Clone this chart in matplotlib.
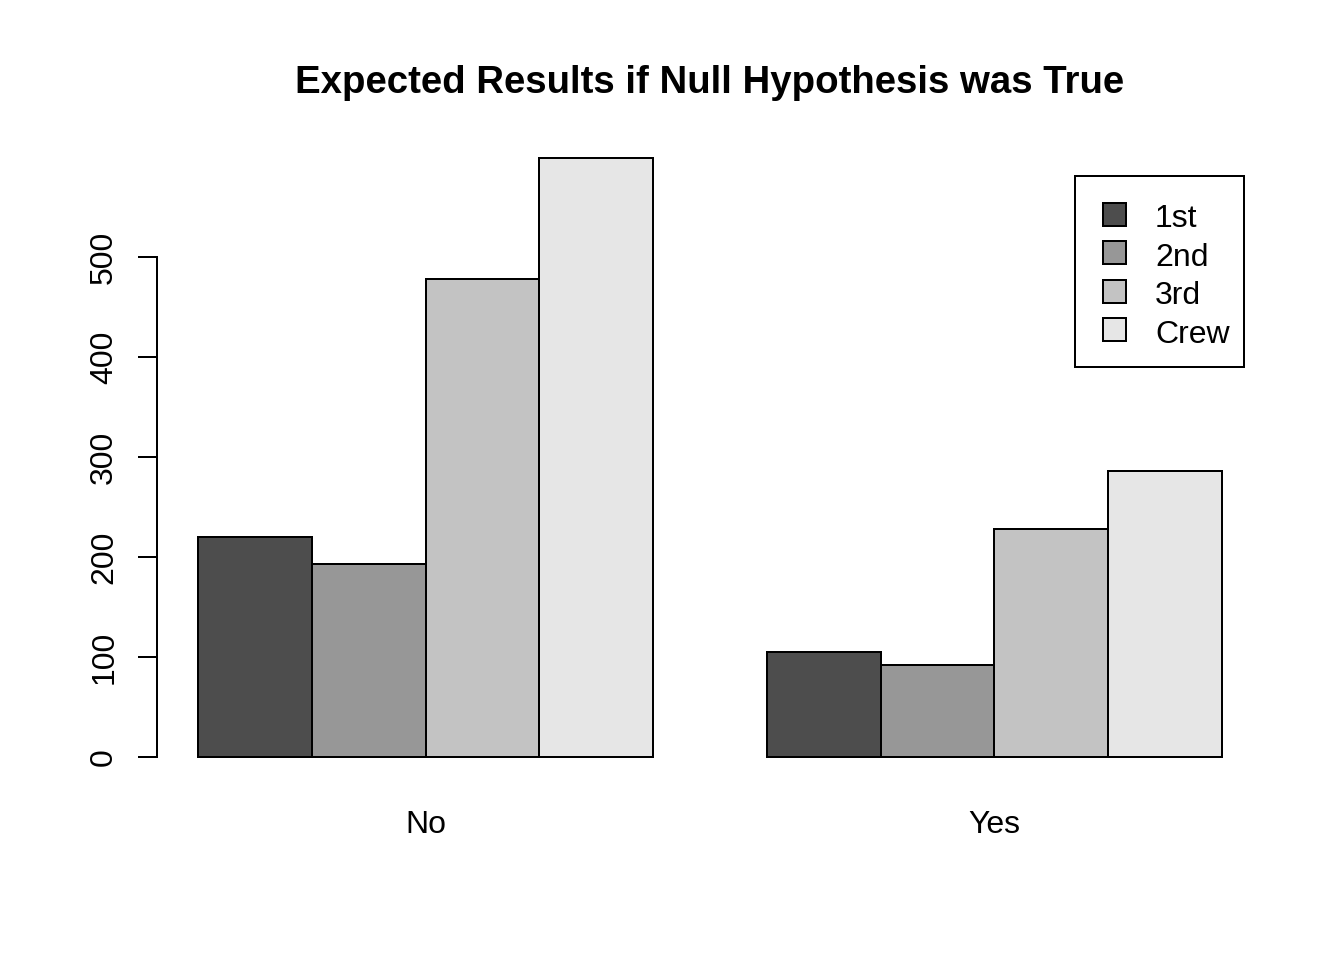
import matplotlib
matplotlib.use("Agg")
import matplotlib.pyplot as plt
from matplotlib.patches import Rectangle
import numpy as np

plt.rcParams['font.family'] = ['Liberation Sans', 'DejaVu Sans']

survived = ["No", "Yes"]
classes = ["1st", "2nd", "3rd", "Crew"]
expected_no = [220.0, 192.9, 477.9, 599.1]
expected_yes = [105.0, 92.1, 228.1, 285.9]
colors = ["#4D4D4D", "#979797", "#C3C3C3", "#E6E6E6"]
yticks = [0, 100, 200, 300, 400, 500]
title = "Expected Results if Null Hypothesis was True"

W, H = 1344, 960
dpi = 192
lw = 0.75
fig = plt.figure(figsize=(W / dpi, H / dpi), dpi=dpi)

# axes in pixel coordinates
left, right, top, bottom = 157, 1263, 134, 781
ax = fig.add_axes([left / W, 1 - bottom / H, (right - left) / W, (bottom - top) / H])

values = [expected_no, expected_yes]
for g, vals in enumerate(values):
    for i, v in enumerate(vals):
        x0 = 1 + g * 5 + i
        ax.bar(x0, v, width=1, align='edge', color=colors[i], edgecolor='black', linewidth=lw)

ymax = max(max(expected_no), max(expected_yes))
ax.set_xlim(1 - 0.04 * 9, 10 + 0.04 * 9)
ax.set_ylim(-0.04 * ymax, ymax * 1.04)

for s in ['top', 'right', 'bottom']:
    ax.spines[s].set_visible(False)
ax.spines['left'].set_bounds(yticks[0], yticks[-1])
ax.spines['left'].set_linewidth(lw)
ax.set_yticks(yticks)
ax.set_yticklabels([str(t) for t in yticks], rotation=90, va='center', fontsize=12)
ax.tick_params(axis='y', length=7.2, width=lw, pad=7)

ax.set_xticks([3, 8])
ax.set_xticklabels(survived, fontsize=12)
ax.tick_params(axis='x', length=0, pad=11)

fig.text(0.5 * (left + right) / W, 1 - 83 / H, title, ha='center', va='center',
         fontsize=14.4, fontweight='bold')

# legend drawn manually
lx0, lx1, ly0, ly1 = 1075, 1244, 176, 367
fig.patches.append(Rectangle((lx0 / W, 1 - ly1 / H), (lx1 - lx0) / W, (ly1 - ly0) / H,
                             transform=fig.transFigure, facecolor='white', edgecolor='black',
                             linewidth=lw, zorder=5))
for i, (lab, c) in enumerate(zip(classes, colors)):
    yc = 214 + i * 38.6
    fig.patches.append(Rectangle((1103 / W, 1 - (yc + 11.5) / H), 23 / W, 23 / H,
                                 transform=fig.transFigure, facecolor=c, edgecolor='black',
                                 linewidth=lw, zorder=6))
    fig.text(1155 / W, 1 - (yc + 13) / H, lab, ha='left', va='baseline', fontsize=12, zorder=7)

fig.savefig("out.png", dpi=dpi)
